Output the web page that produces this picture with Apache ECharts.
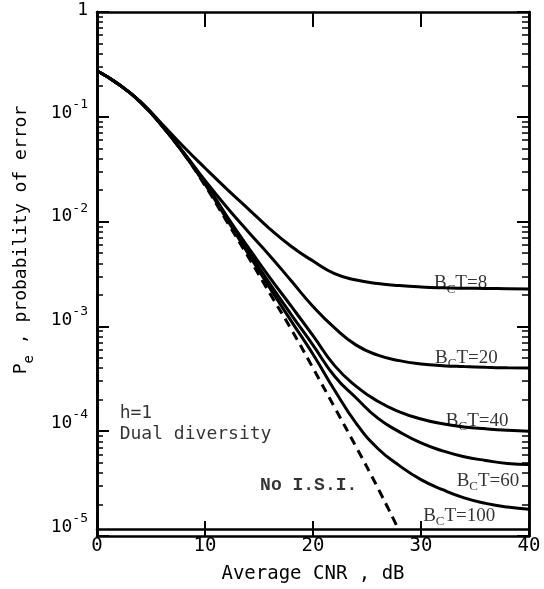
<!DOCTYPE html>
<html>
<head>
<meta charset="utf-8">
<script src="https://cdn.jsdelivr.net/npm/echarts@6/dist/echarts.min.js"></script>
<style>
html, body { margin: 0; background: #fff; }
#main { width: 544px; height: 589px; }
</style>
</head>
<body>
<div id="main"></div>
<script>
// Average CNR (dB) sample points
var cnr = [0, 2, 4, 6, 8, 10, 12, 14, 16, 18, 20, 22, 24, 26, 28, 30, 32, 34, 36, 38, 40];
// probability of error for each BcT
var pe8   = [0.27, 0.20, 0.137, 0.083, 0.050, 0.031, 0.0195, 0.0125, 0.0080, 0.0054, 0.0039, 0.00295, 0.00256, 0.00237, 0.00226, 0.00219, 0.00215, 0.00213, 0.00212, 0.00211, 0.0021];
var pe20  = [0.27, 0.20, 0.135, 0.080, 0.044, 0.0235, 0.0130, 0.0075, 0.0044, 0.0025, 0.00142, 0.00088, 0.00060, 0.00048, 0.000425, 0.000395, 0.00038, 0.000372, 0.000366, 0.000362, 0.00036];
var pe40  = [0.27, 0.20, 0.135, 0.080, 0.0435, 0.0225, 0.0107, 0.0053, 0.0027, 0.00142, 0.00074, 0.00038, 0.00024, 0.000172, 0.000136, 0.000116, 0.000104, 0.000097, 0.000093, 0.00009, 0.000088];
var pe60  = [0.27, 0.20, 0.135, 0.080, 0.0433, 0.0220, 0.0103, 0.0049, 0.00236, 0.00118, 0.00060, 0.00030, 0.000185, 0.000118, 0.000087, 0.000068, 0.000057, 0.00005, 0.000046, 0.000043, 0.000042];
var pe100 = [0.27, 0.20, 0.135, 0.080, 0.0432, 0.0216, 0.0100, 0.0046, 0.00215, 0.00102, 0.00049, 0.00022, 0.000105, 0.00006, 0.000041, 0.00003, 0.000024, 0.00002, 0.0000177, 0.0000163, 0.0000155];
// no inter-symbol interference (dashed)
var cnrNoIsi = [0, 2, 4, 6, 8, 10, 12, 14, 16, 18, 20, 22, 24, 26, 27.9];
var peNoIsi  = [0.27, 0.20, 0.135, 0.080, 0.043, 0.021, 0.0095, 0.0043, 0.0019, 0.00085, 0.00036, 0.00015, 0.000062, 0.000025, 0.00001];

var xTicks = [0, 10, 20, 30, 40];
var yDecades = [1e-5, 1e-4, 1e-3, 1e-2, 1e-1, 1];

// curve labels: text, anchor cnr, anchor pe
var notes = [
    ['{n|B}{c|C}{n|T=8}', 31.2, 2.31e-3],
    ['{n|B}{c|C}{n|T=20}', 31.3, 4.4e-4],
    ['{n|B}{c|C}{n|T=40}', 32.3, 1.07e-4],
    ['{n|B}{c|C}{n|T=60}', 33.3, 2.83e-5],
    ['{n|B}{c|C}{n|T=100}', 30.2, 1.29e-5],
    ['{m|No I.S.I.}', 15.1, 2.66e-5],
    ['{g|h=1}\n{g|Dual diversity}', 2.1, 1.03e-4]
];

function pairs(xs, ys) {
    return xs.map(function (x, i) { return [x, ys[i]]; });
}

// minor ticks 2..9 in every decade
var yMinor = [];
for (var d = 0; d < yDecades.length - 1; d++) {
    for (var k = 2; k <= 9; k++) {
        yMinor.push(+(k * yDecades[d]).toPrecision(3));
    }
}

var mono = 'DejaVu Sans Mono';
var lineW = 3;
var plotBox = { left: 97, right: 15, top: 12, bottom: 53 };

function axisLine() {
    return { show: true, onZero: false, lineStyle: { color: '#000', width: 2.5 } };
}
function tick(len, w, values) {
    var t = { show: true, inside: true, length: len, lineStyle: { color: '#000', width: w } };
    if (values) t.customValues = values;
    return t;
}

function curve(name, ys) {
    return {
        name: name,
        type: 'line',
        data: pairs(cnr, ys),
        smooth: 0.5,
        symbol: 'none',
        clip: true,
        lineStyle: { color: '#000', width: lineW },
        silent: true,
        z: 3
    };
}

function logAxis(grid, pos, tk, label) {
    return {
        gridIndex: grid,
        type: 'log', logBase: 10, min: 1e-5, max: 1, position: pos,
        axisLine: axisLine(),
        axisTick: tk,
        axisLabel: label || { show: false },
        splitLine: { show: false }
    };
}

function tickX(grid, pos) {
    return {
        gridIndex: grid,
        type: 'value', min: 0, max: 40, interval: 10, position: pos,
        axisLine: axisLine(),
        axisTick: tick(15, 2),
        axisLabel: { show: false },
        splitLine: { show: false }
    };
}

var option = {
    animation: false,
    backgroundColor: '#fff',
    // grid 0 holds the data and labels, grids 1 and 2 sit on the same box and carry the ticks
    grid: [plotBox, plotBox, plotBox],
    xAxis: [
        {
            gridIndex: 0,
            type: 'value', min: 0, max: 40, interval: 10, position: 'bottom',
            axisLine: axisLine(),
            axisTick: { show: false },
            axisLabel: {
                color: '#000', fontFamily: mono, fontSize: 19, margin: 8,
                formatter: function (v) { return xTicks.indexOf(v) >= 0 ? String(v) : ''; }
            },
            splitLine: { show: false },
            name: 'Average CNR , dB', nameLocation: 'middle', nameGap: 36,
            nameTextStyle: { color: '#000', fontFamily: mono, fontSize: 19 }
        },
        tickX(1, 'bottom'),
        tickX(1, 'top'),
        { gridIndex: 2, type: 'value', min: 0, max: 40, show: false }
    ],
    yAxis: [
        logAxis(0, 'left', { show: false }, {
            margin: 9,
            formatter: function (v) {
                if (v >= 1) return '{b|1}';
                return '{b|10}{s|' + Math.round(Math.log10(v)) + '}';
            },
            rich: {
                b: { color: '#000', fontFamily: mono, fontSize: 18, lineHeight: 24, verticalAlign: 'bottom' },
                s: { color: '#000', fontFamily: mono, fontSize: 13, lineHeight: 14, verticalAlign: 'top' }
            },
            padding: [0, 0, 10, 0]
        }),
        logAxis(1, 'left', tick(6, 1.5, yMinor)),
        logAxis(1, 'right', tick(7, 1.5, yMinor)),
        logAxis(2, 'left', tick(12, 2, yDecades)),
        logAxis(2, 'right', tick(12, 2, yDecades))
    ],
    graphic: [
        {
            type: 'text', x: 24, y: 240, rotation: Math.PI / 2,
            style: {
                text: '{a|P}{e|e}{a| , probability of error}',
                align: 'center', verticalAlign: 'middle',
                rich: {
                    a: { fill: '#000', fontFamily: mono, fontSize: 18, lineHeight: 24, verticalAlign: 'top' },
                    e: { fill: '#000', fontFamily: mono, fontSize: 14, lineHeight: 16, verticalAlign: 'bottom' }
                }
            }
        }
    ],
    series: [
        curve('BcT=8', pe8),
        curve('BcT=20', pe20),
        curve('BcT=40', pe40),
        curve('BcT=60', pe60),
        curve('BcT=100', pe100),
        {
            name: 'No I.S.I.',
            type: 'line',
            data: pairs(cnrNoIsi, peNoIsi),
            smooth: 0.5,
            symbol: 'none',
            clip: true,
            silent: true,
            lineStyle: { color: '#000', width: lineW, type: [9, 6] },
            z: 3
        },
        {
            name: 'notes',
            type: 'scatter',
            symbolSize: 0,
            silent: true,
            data: notes.map(function (n) { return { value: [n[1], n[2]], label: { formatter: n[0] } }; }),
            label: {
                show: true, position: 'right', distance: 0,
                rich: {
                    n: { color: '#000', fontFamily: 'Liberation Serif', fontSize: 19, lineHeight: 22, verticalAlign: 'top' },
                    c: { color: '#000', fontFamily: 'Liberation Serif', fontSize: 13, lineHeight: 14, verticalAlign: 'bottom' },
                    m: { color: '#000', fontFamily: 'Liberation Mono', fontSize: 18, fontWeight: 'bold' },
                    g: { color: '#000', fontFamily: mono, fontSize: 18, lineHeight: 21 }
                }
            },
            z: 5
        }
    ]
};

var myChart = echarts.init(document.getElementById('main'));
myChart.setOption(option);
</script>
</body>
</html>
